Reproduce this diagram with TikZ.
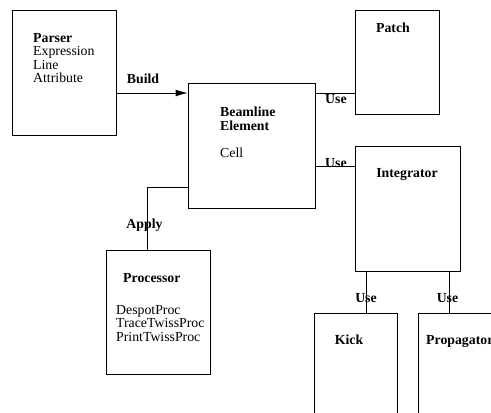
\documentclass[tikz,border=0pt]{standalone}
\usepackage{fontspec}
\setmainfont{Liberation Serif}
\usetikzlibrary{arrows.meta}
\newcommand{\linecolor}{black}
\newcommand{\boxline}{0.8pt}
\newcommand{\txtsize}{\fontsize{13.8}{13.5}\selectfont}
\tikzset{
  box/.style={draw=\linecolor, line width=\boxline, inner sep=0pt},
  conn/.style={draw=\linecolor, line width=\boxline},
  txt/.style={inner sep=0pt, align=left, font=\txtsize},
  head/.style={inner sep=0pt, font=\txtsize\bfseries},
}

\begin{document}
\begin{tikzpicture}[x=1pt, y=-1pt]
\useasboundingbox (0,0) rectangle (491,413);
\clip (0,0) rectangle (491,413);
% boxes
\node[box, minimum width=104pt, minimum height=125pt] (parser) at (64,72.5) {};
\node[box, minimum width=127pt, minimum height=125pt] (beam) at (251.5,145.5) {};
\node[box, minimum width=84pt, minimum height=104pt] (patch) at (397,62) {};
\node[box, minimum width=105pt, minimum height=125pt] (integ) at (407.5,208.5) {};
\node[box, minimum width=104pt, minimum height=124pt] (proc) at (158,312) {};
\node[box, minimum width=83pt, minimum height=130pt] (kick) at (355.5,378) {};
\node[box, minimum width=105pt, minimum height=130pt] (prop) at (470.5,378) {};
% box texts
\node[txt, anchor=north west] (parsertxt) at (33,33) {\textbf{Parser}\\Expression\\Line\\Attribute};
\node[txt, anchor=north west] (beamtxt) at (220,107) {\textbf{Beamline}\\\textbf{Element}\\[13.5pt]Cell};
\node[head, anchor=base] (patchtxt) at (393,32) {Patch};
\node[head, anchor=base] (integtxt) at (407,177) {Integrator};
\node[head, anchor=base west] (proctxt) at (123,282) {Processor};
\node[txt, anchor=north west] (proclist) at (116,305) {DespotProc\\TraceTwissProc\\PrintTwissProc};
\node[head, anchor=base] (kicktxt) at (349,344) {Kick};
\node[head, anchor=base west] (proptxt) at (426,344) {Propagator};
% connectors
\coordinate (build) at (0,93);
\coordinate (usepatch) at (0,93);
\coordinate (useinteg) at (0,166);
\coordinate (apply) at (147,187);
\coordinate (usekick) at (366,0);
\coordinate (useprop) at (449,0);
\draw[conn, -{Latex[length=12pt,width=7pt]}] (parser.east |- build) -- (beam.west |- build);
\draw[conn] (beam.east |- usepatch) -- (patch.west |- usepatch);
\draw[conn] (beam.east |- useinteg) -- (integ.west |- useinteg);
\draw[conn] (beam.west |- apply) -- (apply) -- (apply |- proc.north);
\draw[conn] (usekick |- integ.south) -- (usekick |- kick.north);
\draw[conn] (useprop |- integ.south) -- (useprop |- prop.north);
% labels
\node[head, anchor=base] (buildlbl) at (143,83) {Build};
\node[head, anchor=base west] (uselbl1) at (325,103) {Use};
\node[head, anchor=base west] (uselbl2) at (325,167) {Use};
\node[head, anchor=base] (applylbl) at (144.5,228) {Apply};
\node[head, anchor=base] (uselbl3) at (366,302) {Use};
\node[head, anchor=base] (uselbl4) at (447.5,302) {Use};
\end{tikzpicture}
\end{document}
